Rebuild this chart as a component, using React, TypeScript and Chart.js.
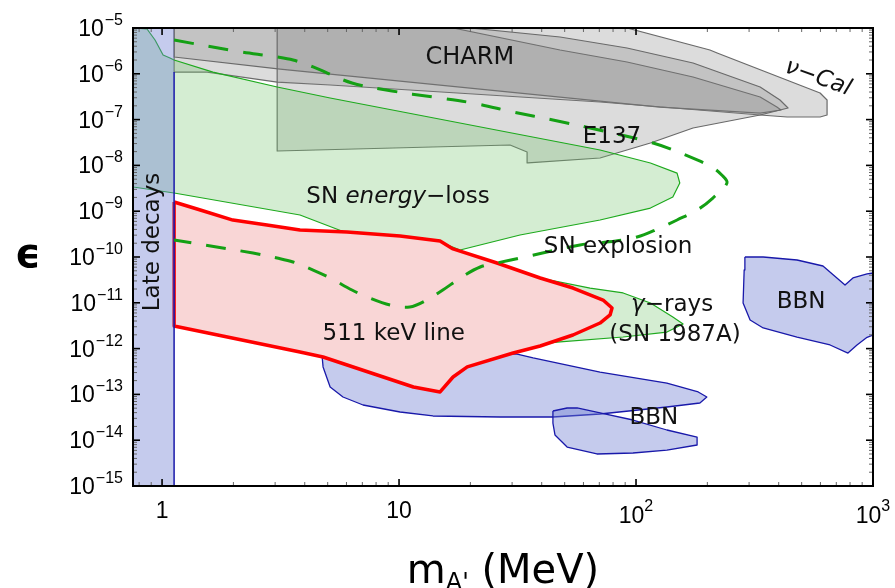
import React, { useEffect, useRef } from 'react';
import { Chart, registerables } from 'chart.js';
Chart.register(...registerables);

type P = [number, number];

// axis ranges
const xRange: P = [0.754, 1000];
const yRange: P = [1e-15, 1e-5];

// tick labels
const xTickValues = [1, 10, 100, 1000];
const xTickBase = ['1', '10', '10', '10'];
const xTickSup = ['', '', '2', '3'];
const yTickExps = [-5, -6, -7, -8, -9, -10, -11, -12, -13, -14, -15];

// regions: [mass (MeV), epsilon]
const lateDecays: P[] = [[0.754, 1e-5], [1.124, 1e-5], [1.124, 1e-15], [0.754, 1e-15]];

const nuCal: P[] = [
  [1.124, 1e-5], [91.6, 1e-5], [205, 3.31e-6], [220, 2.85e-6], [598, 3.81e-7], [640, 2.68e-7],
  [640, 1.26e-7], [598, 1.14e-7], [434, 1.14e-7], [334, 1.26e-7], [70.5, 2.42e-7], [5.12, 5.69e-7],
  [3.06, 6.6e-7], [1.55, 1.09e-6], [1.124, 1.09e-6],
];

const charm: P[] = [
  [1.124, 1e-5], [16.9, 1e-5], [47.8, 3.31e-6], [91.6, 1.81e-6], [174, 8.5e-7], [334, 3.11e-7],
  [393, 1.88e-7], [409, 1.62e-7], [334, 1.39e-7], [126, 1.88e-7], [47.8, 3.11e-7], [3.15, 1.27e-6],
  [1.124, 2.33e-6],
];

const e137: P[] = [
  [3.06, 1e-5], [19.9, 1e-5], [47.8, 6.36e-6], [91.6, 3.66e-6], [174, 1.72e-6], [334, 5.15e-7],
  [405, 2.68e-7], [438, 1.79e-7], [334, 1.26e-7], [174, 6.56e-8], [115, 3.08e-8], [70.5, 1.45e-8],
  [35.0, 1.13e-8], [34.7, 1.96e-8], [29.4, 2.79e-8], [3.06, 2.06e-8],
];

const snEnergyLoss: P[] = [
  [0.754, 1e-5], [0.864, 9.5e-6], [0.934, 5.47e-6], [1.01, 2.57e-6], [1.08, 2.21e-6], [1.124, 2.0e-6],
  [1.64, 1.09e-6], [3.06, 5.15e-7], [5.12, 2.96e-7], [70.5, 2.17e-8], [115, 1.13e-8], [149, 6.8e-9],
  [153, 4.13e-9], [143, 2.04e-9], [115, 1.17e-9], [70.5, 6.43e-10], [32.4, 3.02e-10], [18.1, 1.42e-10],
  [14.9, 2.12e-10], [6.03, 3.34e-10], [3.82, 8.26e-10], [1.124, 2.5e-9], [0.754, 3.38e-9],
];

const gammaRays: P[] = [
  [29.4, 4.7e-11], [64.0, 2.1e-11], [88.2, 1.64e-11], [115, 9.9e-12], [143, 4.9e-12], [158, 3.44e-12],
  [135, 2.3e-12], [88.2, 1.79e-12], [46.4, 1.39e-12], [29.4, 1.08e-12],
];

const line511: P[] = [
  [1.124, 1.59e-9], [1.45, 1.06e-9], [1.99, 6.4e-10], [2.77, 5.0e-10], [3.82, 3.89e-10], [6.03, 3.52e-10],
  [10.1, 2.88e-10], [14.9, 2.23e-10], [16.9, 1.5e-10], [25.9, 7.4e-11], [39.4, 3.48e-11], [54.2, 2.1e-11],
  [72.6, 1.15e-11], [79.2, 7.69e-12], [77.7, 5.42e-12], [70.5, 3.62e-12], [54.2, 1.98e-12], [39.4, 1.14e-12],
  [30.3, 8.0e-13], [19.4, 3.98e-13], [16.9, 2.4e-13], [14.9, 1.13e-13], [11.5, 1.45e-13], [4.78, 6.56e-13],
  [3.82, 8.43e-13], [1.124, 3.11e-12],
];

const bbnLow: P[] = [
  [4.73, 7.24e-13], [10.1, 8.43e-13], [31.5, 7.62e-13], [36.8, 6.24e-13], [70.5, 3.08e-13], [135, 1.77e-13],
  [183, 1.13e-13], [199, 8.77e-14], [186, 6.49e-14], [135, 5.31e-14], [70.5, 3.73e-14], [44.6, 3.21e-14],
  [26.7, 3.21e-14], [13.9, 3.38e-14], [10.1, 4.13e-14], [7.05, 5.87e-14], [5.8, 8.77e-14], [5.12, 1.45e-13],
  [4.78, 3.98e-13],
];

const bbnSmall: P[] = [
  [44.6, 4.34e-14], [51.2, 5.05e-14], [56.4, 5.05e-14], [70.5, 3.93e-14], [97.1, 2.76e-14], [135, 1.67e-14],
  [181, 1.17e-14], [181, 7.85e-15], [135, 6.1e-15], [97.1, 5.25e-15], [68.4, 5.0e-15], [51.2, 7.1e-15],
  [45.5, 1.3e-14], [44.6, 2.37e-14],
];

const bbnRight: P[] = [
  [288, 1.0e-10], [344, 1.0e-10], [478, 8.6e-11], [615, 6.36e-11], [762, 2.45e-11], [823, 3.48e-11],
  [944, 4.26e-11], [1000, 4.48e-11], [1000, 1.98e-12], [944, 1.76e-12], [856, 1.2e-12], [784, 8.0e-13],
  [659, 1.2e-12], [478, 1.79e-12], [344, 2.82e-12], [303, 4.21e-12], [283, 9.9e-12], [286, 5.2e-11],
];

const snExplosion: P[] = [
  [1.124, 5.47e-6], [2.03, 3.15e-6], [3.06, 2.33e-6], [3.57, 2.0e-6], [4.34, 1.41e-6], [6.33, 6.3e-7],
  [9.34, 4.21e-7], [13.9, 3.11e-7], [20.5, 2.3e-7], [30.3, 1.47e-7], [44.6, 9.8e-8], [64.0, 6.56e-8],
  [118, 3.08e-8], [169, 1.53e-8], [209, 9.2e-9], [230, 6.17e-9], [242, 4.13e-9], [211, 1.94e-9],
  [181, 1.06e-9], [149, 6.43e-10], [126, 4.3e-10], [101, 2.73e-10], [70.5, 2.02e-10], [58.0, 1.83e-10],
  [32.4, 9.5e-11], [25.9, 7.4e-11], [22.0, 6.05e-11], [18.4, 3.66e-11], [15.3, 1.9e-11], [13.1, 1.15e-11],
  [11.1, 8.1e-12], [9.16, 8.95e-12], [7.33, 1.34e-11], [6.33, 1.9e-11], [5.12, 3.48e-11], [4.34, 5.2e-11],
  [3.57, 7.78e-11], [3.06, 9.5e-11], [2.42, 1.22e-10], [1.124, 2.35e-10],
];

type Part = { t: string; it?: boolean };
type Lbl = { parts: Part[]; x: number; y: number; rot?: number; size?: number };
const regionLabels: Lbl[] = [
  { parts: [{ t: 'CHARM' }], x: 19.9, y: 2.21e-6, size: 24 },
  { parts: [{ t: 'ν−Cal', it: true }], x: 586, y: 8.1e-7, rot: 20 },
  { parts: [{ t: 'E137' }], x: 79.2, y: 4.17e-8 },
  { parts: [{ t: 'SN ' }, { t: 'energy', it: true }, { t: '−loss' }], x: 9.9, y: 2.04e-9 },
  { parts: [{ t: 'SN explosion' }], x: 84, y: 1.65e-10 },
  { parts: [{ t: 'γ', it: true }, { t: '−rays' }], x: 142, y: 8.95e-12 },
  { parts: [{ t: '(SN 1987A)' }], x: 146, y: 1.98e-12 },
  { parts: [{ t: '511 keV line' }], x: 9.5, y: 2.08e-12 },
  { parts: [{ t: 'BBN' }], x: 119, y: 3.05e-14 },
  { parts: [{ t: 'BBN' }], x: 497, y: 1.04e-11 },
  { parts: [{ t: 'Late decays' }], x: 0.916, y: 2.13e-10, rot: -90 },
];

const LABEL_FONT = '"DejaVu Sans", sans-serif';
const AXIS_FONT = '"Liberation Sans", Arial, sans-serif';
const TITLE_FONT = '"DejaVu Sans", sans-serif';

const closed = (pts: P[]) => [...pts, pts[0]].map(([x, y]) => ({ x, y }));
const open = (pts: P[]) => pts.map(([x, y]) => ({ x, y }));

function drawRich(ctx: CanvasRenderingContext2D, parts: Part[], x: number, y: number, size: number, family: string) {
  const fonts = parts.map((p) => `${p.it ? 'italic ' : ''}${size}px ${family}`);
  const widths = parts.map((p, i) => {
    ctx.font = fonts[i];
    return ctx.measureText(p.t).width;
  });
  const total = widths.reduce((a, b) => a + b, 0);
  let cx = x - total / 2;
  ctx.textAlign = 'left';
  parts.forEach((p, i) => {
    ctx.font = fonts[i];
    ctx.fillText(p.t, cx, y);
    cx += widths[i];
  });
}

const decor = {
  id: 'decor',
  afterDatasetsDraw(chart: any) {
    const { ctx, chartArea: a, scales } = chart;
    const xs = scales.x;
    const ys = scales.y;
    ctx.save();
    // region labels
    ctx.fillStyle = '#111';
    ctx.textBaseline = 'middle';
    for (const l of regionLabels) {
      const px = xs.getPixelForValue(l.x);
      const py = ys.getPixelForValue(l.y);
      ctx.save();
      ctx.translate(px, py);
      if (l.rot) ctx.rotate((l.rot * Math.PI) / 180);
      drawRich(ctx, l.parts, 0, 0, l.size || 23, LABEL_FONT);
      ctx.restore();
    }
    // ticks
    const seg = (x1: number, y1: number, x2: number, y2: number) => {
      ctx.beginPath();
      ctx.moveTo(x1, y1);
      ctx.lineTo(x2, y2);
      ctx.stroke();
    };
    for (let d = -1; d <= 3; d++) {
      for (let k = 1; k <= 9; k++) {
        const v = k * Math.pow(10, d);
        if (v < xRange[0] || v > xRange[1] * 1.0001) continue;
        const px = xs.getPixelForValue(v);
        const major = k === 1;
        ctx.lineWidth = major ? 1.6 : 1;
        ctx.strokeStyle = major ? '#000' : '#666';
        const len = major ? 7 : 4;
        seg(px, a.bottom, px, a.bottom - len);
        seg(px, a.top, px, a.top + len);
      }
    }
    for (let d = -15; d <= -5; d++) {
      for (let k = 1; k <= 9; k++) {
        const v = k * Math.pow(10, d);
        if (v > yRange[1] * 1.0001) continue;
        const py = ys.getPixelForValue(v);
        const major = k === 1;
        ctx.lineWidth = major ? 1.6 : 1;
        ctx.strokeStyle = major ? '#000' : '#666';
        const len = major ? 7 : 4;
        seg(a.left, py, a.left + len, py);
        seg(a.right, py, a.right - len, py);
      }
    }
    // frame
    ctx.lineWidth = 2;
    ctx.strokeStyle = '#000';
    ctx.strokeRect(a.left, a.top, a.right - a.left, a.bottom - a.top);

    // y tick labels
    ctx.fillStyle = '#000';
    ctx.textBaseline = 'alphabetic';
    for (const e of yTickExps) {
      const py = ys.getPixelForValue(Math.pow(10, e));
      const sup = '−' + Math.abs(e);
      ctx.font = `16px ${AXIS_FONT}`;
      const sw = ctx.measureText(sup).width;
      const right = a.left - 10;
      ctx.textAlign = 'right';
      ctx.fillText(sup, right, py - 3);
      ctx.font = `23px ${AXIS_FONT}`;
      ctx.fillText('10', right - sw - 1, py + 8);
    }
    // x tick labels
    xTickValues.forEach((v, i) => {
      const px = xs.getPixelForValue(v);
      const base = xTickBase[i];
      const sup = xTickSup[i];
      ctx.font = `23px ${AXIS_FONT}`;
      const bw = ctx.measureText(base).width;
      ctx.font = `16px ${AXIS_FONT}`;
      const sw = sup ? ctx.measureText(sup).width : 0;
      const left = px - (bw + sw) / 2;
      ctx.textAlign = 'left';
      ctx.font = `23px ${AXIS_FONT}`;
      ctx.fillText(base, left, sup ? a.bottom + 37 : a.bottom + 32);
      if (sup) {
        ctx.font = `16px ${AXIS_FONT}`;
        ctx.fillText(sup, left + bw, a.bottom + 25);
      }
    });
    // axis titles
    const cx = (a.left + a.right) / 2;
    const base = 583;
    ctx.font = `40px ${TITLE_FONT}`;
    const mW = ctx.measureText('m').width;
    const restW = ctx.measureText(' (MeV)').width;
    ctx.font = `24px ${TITLE_FONT}`;
    const subW = ctx.measureText("A'").width;
    let tx = cx - (mW + subW + restW) / 2;
    ctx.textAlign = 'left';
    ctx.font = `40px ${TITLE_FONT}`;
    ctx.fillText('m', tx, base);
    tx += mW;
    ctx.font = `24px ${TITLE_FONT}`;
    ctx.fillText("A'", tx, base + 7);
    tx += subW;
    ctx.font = `40px ${TITLE_FONT}`;
    ctx.fillText(' (MeV)', tx, base);

    ctx.font = `bold 40px ${TITLE_FONT}`;
    ctx.textAlign = 'center';
    ctx.textBaseline = 'middle';
    ctx.fillText('ϵ', 28, (a.top + a.bottom) / 2);
    ctx.restore();
  },
};

const GRAY_FILL = 'rgba(128,128,128,0.28)';
const GRAY_LINE = '#6a6a6a';
const GREEN_FILL = 'rgba(112,195,105,0.3)';
const GREEN_LINE = 'rgb(30,170,30)';
const BLUE_FILL = 'rgba(110,125,210,0.4)';
const BLUE_LINE = 'rgb(25,25,170)';

export default function App() {
  const ref = useRef<HTMLCanvasElement | null>(null);
  useEffect(() => {
    if (!ref.current) return;
    const poly = (label: string, pts: P[], fill: string, line: string, width: number, order: number) => ({
      label,
      data: closed(pts),
      backgroundColor: fill,
      borderColor: line,
      borderWidth: width,
      fill: 'shape',
      pointRadius: 0,
      tension: 0,
      order,
      borderJoinStyle: 'round',
    });
    const datasets: any[] = [
      {
        label: 'SN explosion',
        data: open(snExplosion),
        borderColor: 'rgb(20,160,20)',
        borderWidth: 3,
        borderDash: [20, 15],
        fill: false,
        pointRadius: 0,
        tension: 0.35,
        order: 1,
      },
      {
        label: 'Late decays edge',
        data: open([[lateDecays[2][0], yRange[0]], [lateDecays[1][0], nuCal[nuCal.length - 1][1]]]),
        borderColor: BLUE_LINE,
        borderWidth: 1.5,
        fill: false,
        pointRadius: 0,
        order: 2,
      },
      poly('Late decays', lateDecays, BLUE_FILL, 'rgba(0,0,0,0)', 0, 3),
      poly('511 keV line', line511, 'rgb(249,214,214)', 'rgb(255,0,0)', 3.5, 4),
      poly('BBN small', bbnSmall, BLUE_FILL, BLUE_LINE, 1.3, 5),
      poly('BBN low', bbnLow, BLUE_FILL, BLUE_LINE, 1.3, 6),
      poly('BBN right', bbnRight, BLUE_FILL, BLUE_LINE, 1.3, 7),
      poly('gamma rays', gammaRays, GREEN_FILL, GREEN_LINE, 1.2, 8),
      poly('SN energy-loss', snEnergyLoss, GREEN_FILL, GREEN_LINE, 1.2, 9),
      poly('E137', e137, GRAY_FILL, GRAY_LINE, 1.2, 10),
      poly('CHARM', charm, GRAY_FILL, GRAY_LINE, 1.2, 11),
      poly('nu-Cal', nuCal, GRAY_FILL, GRAY_LINE, 1.2, 12),
    ];
    const chart = new Chart(ref.current, {
      type: 'line',
      data: { datasets },
      options: {
        animation: false,
        responsive: false,
        devicePixelRatio: 1,
        layout: { padding: { left: 133, top: 28, right: 22, bottom: 102 } },
        scales: {
          x: { type: 'logarithmic', min: xRange[0], max: xRange[1], display: false },
          y: { type: 'logarithmic', min: yRange[0], max: yRange[1], display: false },
        },
        plugins: { legend: { display: false }, tooltip: { enabled: false } },
        elements: { point: { radius: 0 } },
      },
      plugins: [decor],
    } as any);
    return () => chart.destroy();
  }, []);
  return (
    <div style={{ position: 'absolute', left: 0, top: 0, width: 895, height: 588, background: '#fff' }}>
      <canvas ref={ref} width={895} height={588} style={{ display: 'block' }} />
    </div>
  );
}
